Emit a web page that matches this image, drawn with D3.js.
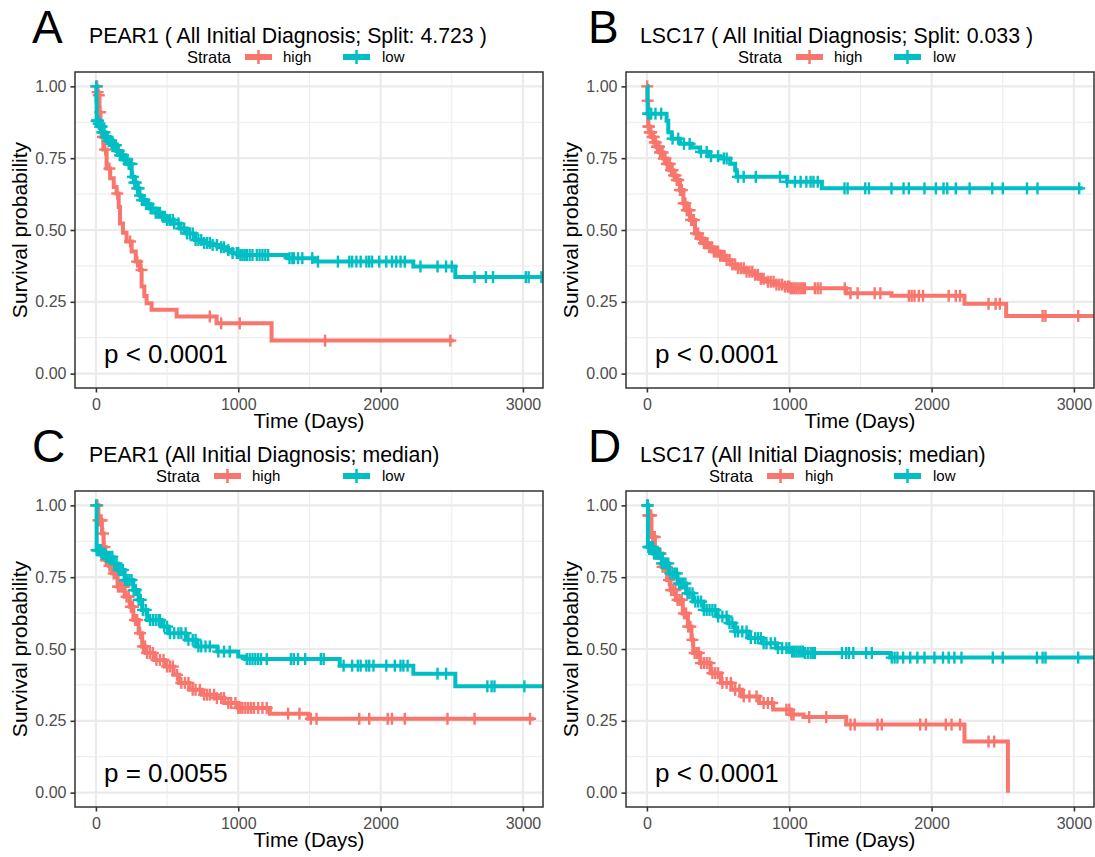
<!DOCTYPE html>
<html>
<head>
<meta charset="utf-8">
<script src="https://cdn.jsdelivr.net/npm/d3@7"></script>
<style>
  body { margin: 0; background: #fff; }
  text { font-family: "Liberation Sans", Arial, Helvetica, sans-serif; }
</style>
</head>
<body>
<div id="chart"></div>
<script>
const W = 1095, H = 857;

const letters = ["A", "B", "C", "D"];
const titles = [
  "PEAR1 ( All Initial Diagnosis; Split: 4.723 )",
  "LSC17 ( All Initial Diagnosis; Split: 0.033 )",
  "PEAR1 (All Initial Diagnosis; median)",
  "LSC17 (All Initial Diagnosis; median)"
];
const pvalues = ["p < 0.0001", "p < 0.0001", "p = 0.0055", "p < 0.0001"];
const strata = ["high", "low"];
const strataColors = ["#F8766D", "#00BFC4"];
const xTicks = [0, 1000, 2000, 3000];
const xMinor = [500, 1500, 2500];
const yTicks = [0, 0.25, 0.5, 0.75, 1];
const yMinor = [0.125, 0.375, 0.625, 0.875];

// step points [time, survival]
const pear1SplitHigh = [[0,1],[10,0.98],[16,0.969],[25,0.91],[32,0.86],[40,0.824],[52,0.78],[75,0.714],[100,0.68],[125,0.65],[145,0.627],[160,0.58],[169,0.523],[190,0.49],[215,0.46],[251,0.425],[280,0.39],[309,0.361],[321,0.303],[340,0.27],[356,0.245],[391,0.222],[567,0.199],[848,0.175],[1234,0.115],[2513,0.115]];
const pear1SplitHighCens = [8,12,20,30,50,65,95,150,240,290,320,800,880,1010,1610,2490];
const pear1SplitLow = [[0,1],[3,0.95],[5,0.88],[18,0.87],[28,0.86],[45,0.84],[63,0.824],[90,0.81],[105,0.8],[122,0.795],[145,0.775],[169,0.76],[200,0.745],[227,0.73],[251,0.685],[270,0.665],[286,0.645],[305,0.62],[321,0.604],[350,0.59],[380,0.575],[420,0.56],[461,0.546],[500,0.535],[543,0.523],[590,0.505],[637,0.488],[696,0.465],[750,0.455],[801,0.448],[860,0.44],[918,0.43],[960,0.42],[1012,0.413],[1345,0.402],[1542,0.39],[2230,0.373],[2525,0.336],[3141,0.336]];
const pear1SplitLowCens = [2,5,8,10,12,15,20,25,30,35,40,45,52,60,68,75,82,90,100,110,120,130,140,150,160,170,180,190,200,210,220,230,240,250,260,270,280,290,300,310,325,340,355,370,385,400,420,435,450,470,485,500,520,540,550,580,600,620,640,660,680,700,720,740,760,780,800,820,850,880,900,930,960,990,1000,1015,1030,1045,1060,1080,1100,1130,1150,1170,1190,1210,1360,1380,1390,1420,1450,1520,1560,1700,1780,1800,1830,1860,1900,1920,1940,1990,2040,2080,2110,2140,2170,2280,2400,2460,2500,2660,2740,2790,3020,3040,3130];

const lsc17SplitHigh = [[0,1],[3,0.95],[9,0.86],[20,0.84],[33,0.824],[50,0.805],[68,0.79],[90,0.77],[115,0.749],[140,0.73],[162,0.708],[185,0.69],[209,0.674],[232,0.639],[256,0.593],[279,0.569],[303,0.535],[338,0.488],[365,0.47],[397,0.454],[430,0.44],[467,0.425],[510,0.41],[549,0.396],[590,0.38],[631,0.367],[690,0.355],[749,0.344],[800,0.33],[843,0.32],[900,0.31],[960,0.303],[1009,0.297],[1400,0.28],[1718,0.271],[2231,0.243],[2524,0.201],[3141,0.201]];
const lsc17SplitHighCens = [2,5,10,15,20,25,30,40,48,55,62,70,78,85,92,100,110,120,130,140,150,160,170,180,190,200,210,220,232,245,258,270,280,290,300,310,320,330,345,360,375,390,400,410,425,440,455,470,485,500,515,530,545,560,580,600,620,640,660,680,700,720,740,760,780,800,820,850,870,890,910,930,950,970,990,1000,1010,1020,1035,1050,1065,1080,1095,1110,1180,1200,1220,1390,1430,1480,1600,1640,1840,1860,1880,1910,1940,2120,2170,2200,2400,2450,2480,2780,2800,3030];
const lsc17SplitLow = [[0,1],[5,0.905],[138,0.88],[150,0.84],[174,0.818],[232,0.8],[315,0.787],[373,0.772],[432,0.757],[514,0.749],[585,0.731],[620,0.708],[631,0.685],[985,0.668],[1229,0.645],[3061,0.645]];
const lsc17SplitLowCens = [8,15,30,60,100,180,220,260,300,380,420,450,500,540,560,640,680,765,935,985,1040,1080,1120,1150,1170,1200,1388,1410,1534,1560,1718,1803,1840,1950,2030,2084,2110,2170,2267,2426,2500,2670,2744,3037];

const pear1MedianHigh = [[0,1],[17,0.948],[42,0.902],[54,0.855],[66,0.809],[90,0.79],[116,0.763],[152,0.717],[202,0.682],[238,0.647],[263,0.601],[300,0.555],[325,0.509],[349,0.486],[410,0.462],[484,0.439],[546,0.41],[583,0.382],[657,0.358],[743,0.341],[841,0.329],[902,0.312],[1000,0.295],[1222,0.275],[1493,0.257],[3078,0.257]];
const pear1MedianHighCens = [5,10,18,25,32,40,50,60,70,80,95,110,125,140,155,170,185,200,215,230,245,260,275,290,310,330,345,360,380,400,425,450,475,500,520,540,570,600,625,650,680,700,730,760,780,800,830,850,880,900,930,950,980,1000,1015,1030,1050,1070,1090,1110,1140,1170,1200,1350,1430,1510,1550,1850,1920,2050,2080,2170,2470,2660,3050];
const pear1MedianLow = [[0,1],[5,0.844],[40,0.832],[66,0.821],[116,0.798],[152,0.775],[202,0.74],[263,0.705],[300,0.671],[325,0.636],[361,0.601],[459,0.578],[509,0.555],[631,0.532],[705,0.509],[853,0.491],[1000,0.474],[1050,0.465],[1713,0.442],[2230,0.414],[2525,0.37],[3141,0.37]];
const pear1MedianLowCens = [2,5,10,15,20,28,35,42,50,60,70,85,100,115,130,145,160,175,190,205,220,235,250,265,280,300,315,330,350,380,400,420,440,450,480,500,520,550,580,600,630,650,680,700,720,740,770,800,860,900,940,1060,1080,1100,1120,1140,1160,1200,1370,1390,1420,1470,1580,1600,1740,1800,1840,1860,1900,1920,1950,2040,2100,2140,2160,2190,2400,2460,2750,2780,2800,3010];

const lsc17MedianHigh = [[0,1],[10,0.965],[32,0.89],[56,0.832],[105,0.786],[142,0.74],[166,0.705],[203,0.671],[252,0.624],[288,0.578],[313,0.532],[325,0.486],[374,0.451],[447,0.416],[520,0.382],[594,0.358],[667,0.335],[789,0.312],[887,0.289],[1009,0.272],[1100,0.263],[1400,0.237],[2231,0.178],[2536,0]];
const lsc17MedianHighCens = [5,10,15,22,30,38,45,55,65,75,85,95,110,125,140,155,170,185,200,215,230,245,260,275,290,305,320,335,350,365,380,400,420,440,460,480,500,530,560,590,620,650,680,720,770,820,850,880,980,1000,1015,1030,1140,1260,1430,1460,1620,1650,1920,1960,2100,2140,2200,2400,2440];
const lsc17MedianLow = [[0,1],[7,0.855],[44,0.832],[105,0.798],[154,0.763],[215,0.728],[276,0.694],[325,0.665],[398,0.636],[496,0.613],[570,0.59],[618,0.561],[716,0.538],[814,0.52],[912,0.503],[1009,0.491],[1100,0.486],[1710,0.47],[3141,0.47]];
const lsc17MedianLowCens = [2,5,10,15,20,28,35,42,50,60,70,80,90,105,120,135,150,165,180,195,210,225,240,255,270,285,300,320,340,360,380,400,420,440,460,480,500,530,560,580,600,620,640,670,700,730,760,780,800,820,840,870,900,920,950,980,1000,1020,1035,1050,1065,1080,1095,1110,1130,1150,1165,1180,1370,1400,1420,1450,1540,1580,1720,1740,1760,1800,1850,1900,1950,2020,2080,2120,2160,2210,2430,2500,2740,2780,2800,3030];

const curves = [
  [[pear1SplitHigh, pear1SplitHighCens], [pear1SplitLow, pear1SplitLowCens]],
  [[lsc17SplitHigh, lsc17SplitHighCens], [lsc17SplitLow, lsc17SplitLowCens]],
  [[pear1MedianHigh, pear1MedianHighCens], [pear1MedianLow, pear1MedianLowCens]],
  [[lsc17MedianHigh, lsc17MedianHighCens], [lsc17MedianLow, lsc17MedianLowCens]]
];

// layout of the 2x2 grid
const panelX = [0, 551, 0, 551];
const panelY = [0, 0, 419, 419];
const strataX = [187, 187, 156, 158];
const plot = { left: 75, right: 543, top: 72, bottom: 388 };

const svg = d3.select("#chart").append("svg")
  .attr("width", W).attr("height", H)
  .attr("viewBox", `0 0 ${W} ${H}`);

function survAt(steps, t) {
  let s = steps[0][1];
  for (const [tt, ss] of steps) {
    if (tt <= t) s = ss; else break;
  }
  return s;
}

letters.forEach((letter, i) => {
  const g = svg.append("g").attr("transform", `translate(${panelX[i]},${panelY[i]})`);

  const x = d3.scaleLinear().domain([-147, 3141]).range([plot.left, plot.right]);
  const y = d3.scaleLinear().domain([-0.05, 1.05]).range([plot.bottom, plot.top]);

  // grid
  g.append("g").selectAll("line").data(xMinor).join("line")
    .attr("x1", d => x(d)).attr("x2", d => x(d))
    .attr("y1", plot.top).attr("y2", plot.bottom)
    .attr("stroke", "#EBEBEB").attr("stroke-width", 1);
  g.append("g").selectAll("line").data(yMinor).join("line")
    .attr("x1", plot.left).attr("x2", plot.right)
    .attr("y1", d => y(d)).attr("y2", d => y(d))
    .attr("stroke", "#EBEBEB").attr("stroke-width", 1);
  g.append("g").selectAll("line").data(xTicks).join("line")
    .attr("x1", d => x(d)).attr("x2", d => x(d))
    .attr("y1", plot.top).attr("y2", plot.bottom)
    .attr("stroke", "#EBEBEB").attr("stroke-width", 2.2);
  g.append("g").selectAll("line").data(yTicks).join("line")
    .attr("x1", plot.left).attr("x2", plot.right)
    .attr("y1", d => y(d)).attr("y2", d => y(d))
    .attr("stroke", "#EBEBEB").attr("stroke-width", 2.2);

  // curves, clipped to the panel
  const clipId = "clip" + i;
  g.append("clipPath").attr("id", clipId).append("rect")
    .attr("x", plot.left).attr("y", plot.top)
    .attr("width", plot.right - plot.left).attr("height", plot.bottom - plot.top);
  const area = g.append("g").attr("clip-path", `url(#${clipId})`);

  const line = d3.line().x(d => x(d[0])).y(d => y(d[1])).curve(d3.curveStepAfter);

  curves[i].forEach(([steps, cens], k) => {
    const col = strataColors[k];
    area.append("path")
      .attr("d", line(steps))
      .attr("fill", "none")
      .attr("stroke", col)
      .attr("stroke-width", 4);
    const marks = area.append("g").selectAll("g").data(cens).join("g")
      .attr("transform", d => `translate(${x(d)},${y(survAt(steps, d))})`);
    marks.append("line").attr("x1", 0).attr("x2", 0).attr("y1", -6).attr("y2", 6)
      .attr("stroke", col).attr("stroke-width", 2.4);
    marks.append("line").attr("x1", -6).attr("x2", 6).attr("y1", 0).attr("y2", 0)
      .attr("stroke", col).attr("stroke-width", 2.4);
  });

  // border
  g.append("rect")
    .attr("x", plot.left).attr("y", plot.top)
    .attr("width", plot.right - plot.left).attr("height", plot.bottom - plot.top)
    .attr("fill", "none").attr("stroke", "#333333").attr("stroke-width", 1.5);

  // axes
  const xAxis = g.append("g").attr("transform", `translate(0,${plot.bottom})`)
    .call(d3.axisBottom(x).tickValues(xTicks).tickSize(4.5).tickPadding(6).tickFormat(d3.format("d")));
  const yAxis = g.append("g").attr("transform", `translate(${plot.left},0)`)
    .call(d3.axisLeft(y).tickValues(yTicks).tickSize(4.5).tickPadding(4).tickFormat(d3.format(".2f")));
  [xAxis, yAxis].forEach(ax => {
    ax.select(".domain").remove();
    ax.selectAll(".tick line").attr("stroke", "#333333").attr("stroke-width", 1.6);
    ax.selectAll(".tick text").attr("fill", "#4D4D4D")
      .style("font-size", "16px")
      .style("font-family", '"Liberation Sans", Arial, sans-serif');
  });

  // axis titles
  g.append("text")
    .attr("x", (plot.left + plot.right) / 2).attr("y", 428)
    .attr("text-anchor", "middle").attr("font-size", 20.5)
    .text("Time (Days)");
  g.append("text")
    .attr("transform", `translate(27,${(plot.top + plot.bottom) / 2}) rotate(-90)`)
    .attr("text-anchor", "middle").attr("font-size", 21)
    .text("Survival probability");

  // p-value
  g.append("text")
    .attr("x", 104).attr("y", 363)
    .attr("font-size", 26)
    .text(pvalues[i]);

  // letter and title
  g.append("text")
    .attr("x", i % 2 ? 37 : 32).attr("y", 43)
    .attr("font-size", 46)
    .text(letter);
  g.append("text")
    .attr("x", 89).attr("y", 43)
    .attr("font-size", 21.3)
    .text(titles[i]);

  // legend
  const lg = g.append("g");
  lg.append("text").attr("x", strataX[i]).attr("y", 63)
    .attr("font-size", 16.5).text("Strata");
  const keyX = [strataX[i] + 58, 343];
  const labX = [strataX[i] + 96, 382];
  strata.forEach((s, k) => {
    lg.append("line")
      .attr("x1", keyX[k]).attr("x2", keyX[k] + 27)
      .attr("y1", 57).attr("y2", 57)
      .attr("stroke", strataColors[k]).attr("stroke-width", 6);
    lg.append("line")
      .attr("x1", keyX[k] + 13.5).attr("x2", keyX[k] + 13.5)
      .attr("y1", 50).attr("y2", 64)
      .attr("stroke", strataColors[k]).attr("stroke-width", 2.5);
    lg.append("text").attr("x", labX[k]).attr("y", 62)
      .attr("font-size", 15).text(s);
  });
});
</script>
</body>
</html>
